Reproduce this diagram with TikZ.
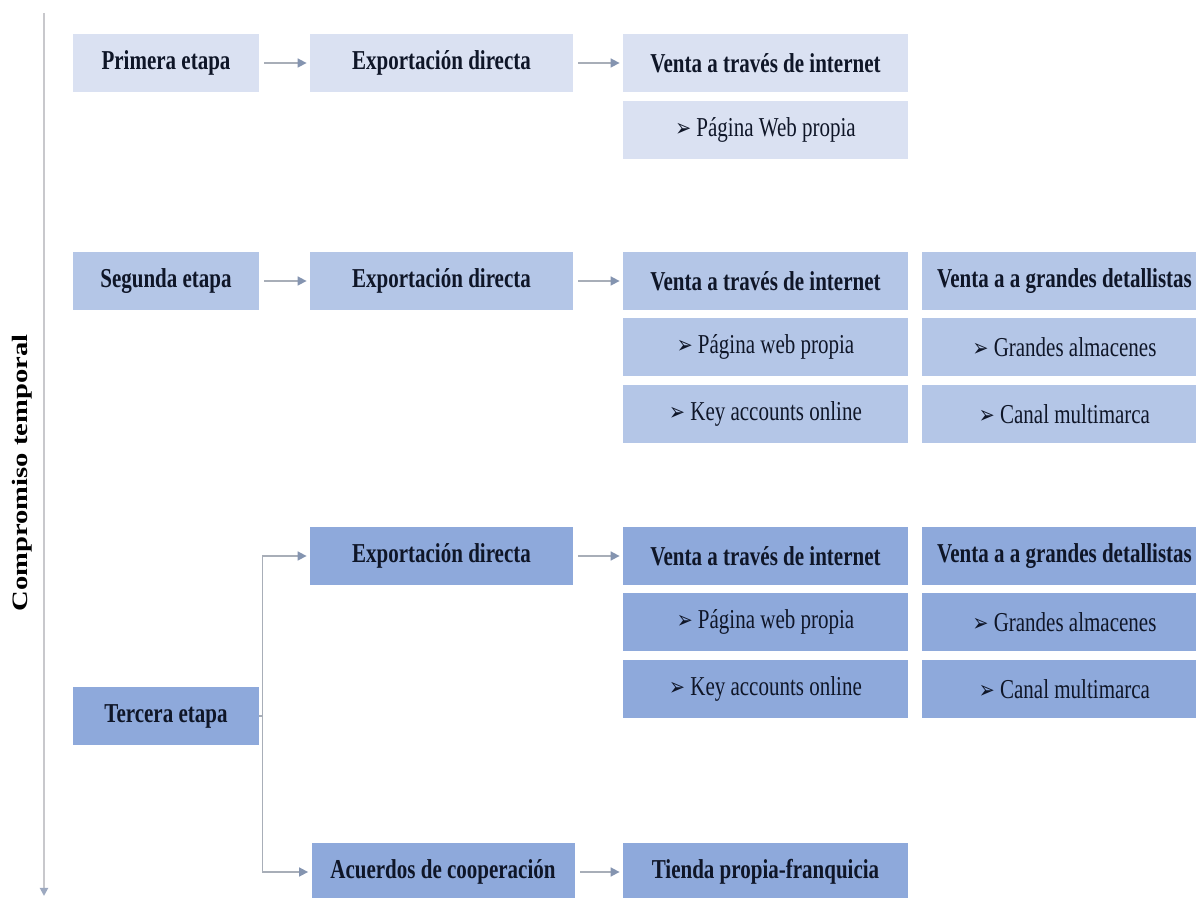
\documentclass[tikz,border=0pt]{standalone}
\usepackage{fontspec}
\setmainfont{Liberation Serif}
\newfontfamily\djv{DejaVu Sans}
\usepackage{graphicx}
\usetikzlibrary{arrows.meta}
\definecolor{cOne}{RGB}{218,225,242}
\definecolor{cTwo}{RGB}{180,198,231}
\definecolor{cThree}{RGB}{142,169,219}
\definecolor{txt}{RGB}{15,22,40}
\definecolor{lineg}{RGB}{168,174,184}
\definecolor{tipc}{RGB}{132,148,176}
\definecolor{axisg}{RGB}{200,200,204}
\newcommand\vt[1]{\scalebox{1}[1.3]{#1}}
\newcommand\bul{{\djv\fontsize{9.5}{10}\selectfont ➢}\ }
\begin{document}
\begin{tikzpicture}[x=0.5pt,y=-0.5pt,
  box/.style={rectangle, inner sep=0pt, minimum height=29pt, text=txt,
    font=\fontsize{10.5}{12}\selectfont},
  hd/.style={box, font=\fontsize{10.5}{12}\selectfont\bfseries},
  colA/.style={minimum width=93pt},
  colB/.style={minimum width=131.5pt},
  colC/.style={minimum width=142.5pt},
  conn/.style={draw=lineg, line width=0.8pt,
    -{Triangle[length=4.5pt,width=4.5pt,color=tipc]}, shorten >=1.5pt},
  rowconn/.style={conn, shorten <=2.5pt},
  axisline/.style={draw=axisg, line width=0.9pt,
    -{Triangle[length=4pt,width=4pt,color=tipc!80]}}
]
\useasboundingbox (0,0) rectangle (1196,898);
\clip (0,0) rectangle (1196,898);

% axis
\coordinate (axT) at (44,13);
\coordinate (axB) at (44,896);
\draw[axisline] (axT) -- (axB);
\node[rotate=90, text=black, inner sep=0pt,
  font=\fontsize{11}{12}\selectfont\bfseries] (lab) at (22,473)
  {\scalebox{1.3}[1]{Compromiso temporal}};

% row 1
\node[hd,colA,fill=cOne] (p1) at (166,63) {\vt{Primera etapa}};
\node[hd,colB,fill=cOne] (e1) at (441.5,63) {\vt{Exportación directa}};
\node[hd,colC,fill=cOne] (v1) at (765.5,63) {\vt{Venta a través de internet}};
\node[box,colC,fill=cOne] (w1) at (765.5,130) {\vt{\bul Página Web propia}};

% row 2
\node[hd,colA,fill=cTwo] (s2) at (166,281) {\vt{Segunda etapa}};
\node[hd,colB,fill=cTwo] (e2) at (441.5,281) {\vt{Exportación directa}};
\node[hd,colC,fill=cTwo] (v2) at (765.5,281) {\vt{Venta a través de internet}};
\node[box,colC,fill=cTwo] (w2) at (765.5,347) {\vt{\bul Página web propia}};
\node[box,colC,fill=cTwo] (k2) at (765.5,414) {\vt{\bul Key accounts online}};
\node[hd,colC,fill=cTwo] (g2) at (1064.5,281) {\vt{Venta a a grandes detallistas}};
\node[box,colC,fill=cTwo] (ga2) at (1064.5,347) {\vt{\bul Grandes almacenes}};
\node[box,colC,fill=cTwo] (cm2) at (1064.5,414) {\vt{\bul Canal multimarca}};

% row 3
\node[hd,colA,fill=cThree] (t3) at (166,716) {\vt{Tercera etapa}};
\node[hd,colB,fill=cThree] (e3) at (441.5,556) {\vt{Exportación directa}};
\node[hd,colC,fill=cThree] (v3) at (765.5,556) {\vt{Venta a través de internet}};
\node[box,colC,fill=cThree] (w3) at (765.5,622) {\vt{\bul Página web propia}};
\node[box,colC,fill=cThree] (k3) at (765.5,689) {\vt{\bul Key accounts online}};
\node[hd,colC,fill=cThree] (g3) at (1064.5,556) {\vt{Venta a a grandes detallistas}};
\node[box,colC,fill=cThree] (ga3) at (1064.5,622) {\vt{\bul Grandes almacenes}};
\node[box,colC,fill=cThree] (cm3) at (1064.5,689) {\vt{\bul Canal multimarca}};
\node[hd,colB,fill=cThree] (ac) at (443,872) {\vt{Acuerdos de cooperación}};
\node[hd,colC,fill=cThree] (ti) at (765.5,872) {\vt{Tienda propia-franquicia}};

% connectors
\draw[rowconn] (p1) -- (e1);
\draw[rowconn] (e1) -- (v1);
\draw[rowconn] (s2) -- (e2);
\draw[rowconn] (e2) -- (v2);
\draw[rowconn] (e3) -- (v3);
\draw[rowconn] (ac) -- (ti);
\coordinate (j) at ([xshift=1.5pt]t3.east);
\draw[conn] (t3.east) -- (j) |- (e3.west);
\draw[conn] (j) |- (ac.west);
\end{tikzpicture}
\end{document}
